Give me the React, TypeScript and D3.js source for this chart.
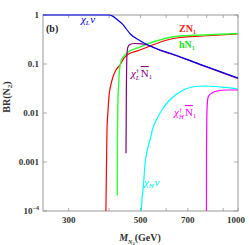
import * as d3 from "d3"
import { useEffect, useRef } from "react"

// branching ratios of N2 vs its mass
const blueMass = [250, 400, 410, 425, 440, 450, 465, 500, 535, 575, 615, 760, 1000]
const blueBR = [1, 1, 0.95, 0.79, 0.65, 0.54, 0.41, 0.295, 0.233, 0.193, 0.168, 0.1, 0.052]

const purpleMass = [451, 452, 454, 457, 464, 480, 505, 535, 575, 615, 760, 1000]
const purpleBR = [0.0015, 0.018, 0.15, 0.22, 0.25, 0.262, 0.258, 0.236, 0.189, 0.164, 0.098, 0.0506]

const redMass = [391, 392.5, 394, 397, 400, 405, 411, 420, 432, 445, 454, 498, 535, 604, 662, 779, 1000]
const redBR = [1e-4, 6.9e-4, 0.0045, 0.0115, 0.0233, 0.0373, 0.0543, 0.0755, 0.0954, 0.133, 0.153, 0.193, 0.233, 0.309, 0.347, 0.373, 0.41]

const greenMass = [424, 424.3, 425, 426, 427.5, 429, 432, 438, 445, 454, 498, 546, 604, 662, 779, 1000]
const greenBR = [2.1e-4, 0.0018, 0.0072, 0.0184, 0.0324, 0.0518, 0.091, 0.1265, 0.146, 0.168, 0.222, 0.281, 0.34, 0.373, 0.391, 0.419]

const cyanMass = [503, 505, 509, 512, 516, 523, 535, 546, 562, 582, 604, 630, 662, 696, 736, 779, 849, 911, 1000]
const cyanBR = [1e-4, 1.68e-4, 2.7e-4, 4.3e-4, 8.7e-4, 0.0016, 0.0028, 0.0049, 0.0076, 0.0115, 0.016, 0.0212, 0.0268, 0.0316, 0.0347, 0.0356, 0.0347, 0.0332, 0.0309]

const magentaMass = [799, 799.5, 801, 803.5, 809, 819, 831, 861, 925, 1000]
const magentaBR = [1e-4, 0.0018, 0.0072, 0.0146, 0.0212, 0.0239, 0.0256, 0.0281, 0.0295, 0.0295]

const xTicks = [300, 400, 500, 600, 700, 800, 900, 1000]
const xLabels = ["300", "", "500", "", "700", "", "", "1000"]
const yTicks = [1, 0.1, 0.01, 0.001, 1e-4]
const yLabels = ["1", "0.1", "0.01", "0.001", ""]

function App() {
  const ref = useRef<SVGSVGElement>(null)

  useEffect(() => {
    const width = 249
    const height = 245
    const left = 43, right = 238, top = 15, bottom = 211

    const svg = d3.select(ref.current)
    svg.selectAll("*").remove()

    const x = d3.scaleLog().domain([250, 1000]).range([left, right])
    const y = d3.scaleLog().domain([1e-4, 1]).range([bottom, top])

    svg.append("defs").append("clipPath").attr("id", "plotclip")
      .append("rect").attr("x", left).attr("y", top - 1)
      .attr("width", right - left).attr("height", bottom - top + 1)

    // frame
    svg.append("rect")
      .attr("x", left).attr("y", top).attr("width", right - left).attr("height", bottom - top)
      .attr("fill", "none").attr("stroke", "#999").attr("stroke-width", 1)

    const tick = svg.append("g").attr("stroke", "#999").attr("stroke-width", 0.8)
    xTicks.forEach(t => {
      tick.append("line").attr("x1", x(t)).attr("x2", x(t)).attr("y1", bottom).attr("y2", bottom - 3)
      tick.append("line").attr("x1", x(t)).attr("x2", x(t)).attr("y1", top).attr("y2", top + 3)
    })
    yTicks.forEach(t => {
      tick.append("line").attr("x1", left).attr("x2", left + 4).attr("y1", y(t)).attr("y2", y(t))
      tick.append("line").attr("x1", right).attr("x2", right - 4).attr("y1", y(t)).attr("y2", y(t))
    })

    const font = "'Liberation Serif', 'DejaVu Serif', serif"

    xTicks.forEach((t, i) => {
      if (!xLabels[i]) return
      svg.append("text").attr("x", x(t) - (t === 1000 ? 2 : 0)).attr("y", 223)
        .attr("text-anchor", "middle").attr("font-family", font).attr("font-weight", "bold")
        .attr("font-size", 9).attr("fill", "#333").text(xLabels[i])
    })
    yTicks.forEach((t, i) => {
      if (!yLabels[i]) return
      svg.append("text").attr("x", 39).attr("y", y(t) + 3)
        .attr("text-anchor", "end").attr("font-family", font).attr("font-weight", "bold")
        .attr("font-size", 9).attr("fill", "#333").text(yLabels[i])
    })
    const e4 = svg.append("text").attr("x", 39).attr("y", y(1e-4) + 3)
      .attr("text-anchor", "end").attr("font-family", font).attr("font-weight", "bold")
      .attr("font-size", 9).attr("fill", "#333")
    e4.append("tspan").text("10")
    e4.append("tspan").attr("font-size", 6).attr("dy", -4).text("\u22124")

    // axis titles
    const yt = svg.append("text").attr("transform", "translate(10,97) rotate(-90)")
      .attr("text-anchor", "middle").attr("font-family", font).attr("font-weight", "bold")
      .attr("font-size", 10).attr("fill", "#333")
    yt.append("tspan").text("BR(N")
    yt.append("tspan").attr("font-size", 7).attr("dy", 2).text("2")
    yt.append("tspan").attr("dy", -2).text(")")

    const xt = svg.append("text").attr("x", 140).attr("y", 241)
      .attr("text-anchor", "middle").attr("font-family", font).attr("font-weight", "bold")
      .attr("font-size", 10).attr("fill", "#333")
    xt.append("tspan").attr("font-style", "italic").text("M")
    xt.append("tspan").attr("font-size", 6).attr("font-style", "italic").attr("dy", 2.5).text("N")
    xt.append("tspan").attr("font-size", 4.5).attr("dy", 1.5).text("2")
    xt.append("tspan").attr("dy", -4).text("(GeV)")

    // curves
    const line = d3.line<[number, number]>()
      .x(d => x(d[0])).y(d => y(d[1]))
      .curve(d3.curveMonotoneX)

    const series: [number[], number[], string, number][] = [
      [cyanMass, cyanBR, "#00ffff", 1.2],
      [magentaMass, magentaBR, "#ff00ff", 1.2],
      [redMass, redBR, "#ff0000", 1.2],
      [greenMass, greenBR, "#33ff33", 1.4],
      [purpleMass, purpleBR, "#800080", 1.2],
      [blueMass, blueBR, "#0000ee", 1.2],
    ]
    const plot = svg.append("g").attr("clip-path", "url(#plotclip)")
    series.forEach(([ms, brs, col, w]) => {
      plot.append("path")
        .datum(ms.map((m, i) => [m, brs[i]] as [number, number]))
        .attr("d", line)
        .attr("fill", "none").attr("stroke", col).attr("stroke-width", w)
    })

    // labels
    svg.append("text").attr("x", 46).attr("y", 32).attr("font-family", font)
      .attr("font-weight", "bold").attr("font-size", 10).attr("fill", "#222").text("(b)")

    const chiLabel = (lx: number, ly: number, col: string, sub: string, dagger: boolean) => {
      const t = svg.append("text").attr("x", lx).attr("y", ly).attr("font-family", font)
        .attr("font-style", "italic").attr("font-size", 11).attr("fill", col)
      t.append("tspan").text("\u03c7")
      if (dagger) {
        t.append("tspan").attr("font-size", 7).attr("dy", -4.5).attr("font-style", "normal").text("\u2020")
        t.append("tspan").attr("font-size", 7).attr("dy", 7).attr("dx", -3.5).text(sub)
        t.append("tspan").attr("dy", -2.5).attr("font-style", "normal").attr("dx", 1)
          .attr("text-decoration", "overline").text("N")
        t.append("tspan").attr("font-size", 7).attr("dy", 2).attr("font-style", "normal").text("1")
      } else {
        t.append("tspan").attr("font-size", 7).attr("dy", 2).text(sub)
        t.append("tspan").attr("dy", -2).attr("dx", 0.5).text("\u03bd")
      }
    }
    chiLabel(81, 23, "#0000ee", "L", false)
    chiLabel(144, 186, "#00eeee", "H", false)
    chiLabel(131, 77, "#800080", "L", true)
    chiLabel(174, 116, "#ff00ff", "H", true)

    const nLabel = (lx: number, ly: number, col: string, head: string) => {
      const t = svg.append("text").attr("x", lx).attr("y", ly).attr("font-family", font)
        .attr("font-weight", "bold").attr("font-size", 10).attr("fill", col)
      t.append("tspan").text(head + "N")
      t.append("tspan").attr("font-size", 6).attr("dy", 2).text("1")
    }
    nLabel(179, 32, "#ff2020", "Z")
    nLabel(179, 48, "#22dd22", "h")

    svg.attr("width", width).attr("height", height)
  }, [])

  return (
    <svg ref={ref} width={249} height={245}
      style={{ position: "absolute", left: 0, top: 0, background: "#fff" }} />
  )
}

export default App
